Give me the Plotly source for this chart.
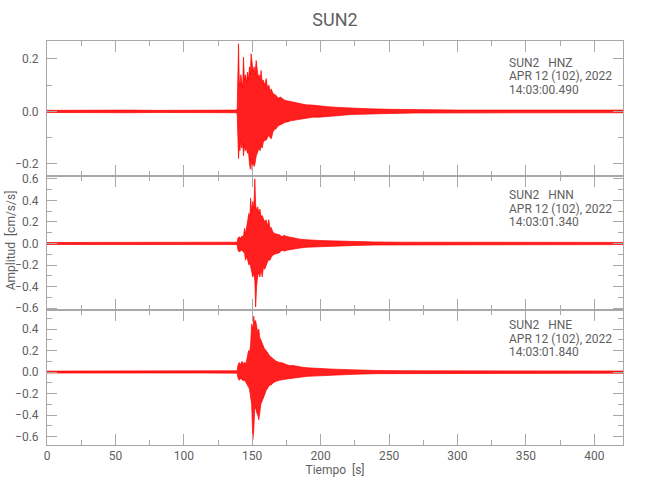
import plotly.graph_objects as go

# ---------------- data ----------------
station = "SUN2"
channels = ["HNZ", "HNN", "HNE"]
date_label = "APR 12 (102), 2022"
start_times = ["14:03:00.490", "14:03:01.340", "14:03:01.840"]
x_ticks = [0, 50, 100, 150, 200, 250, 300, 350, 400]

# HNZ envelope
hnz_t = [0, 20, 40, 60, 80, 100, 120, 138, 139.0, 139.5, 140.0, 140.5, 141.0, 141.7, 142.4, 143.0,
         143.6, 144.3, 145.0, 145.8, 146.5, 147.2, 148.0, 148.6, 149.2, 150.0, 150.7, 151.4,
         152.0, 152.9, 153.6, 154.3, 155.0, 155.8, 156.5, 157.3, 158.0, 159.0, 160.2, 161.2,
         162.2, 163.0, 164.0, 165.0, 166.0, 167.5, 169.0, 170.5, 172.3, 174.0, 176.0, 178.0,
         179.6, 182.0, 185.0, 189.3, 194.0, 199.0, 205.0, 213.6, 222.0, 235.0, 250.0, 270,
         300, 330, 360, 390, 421]
hnz_up = [0.004, 0.005, 0.004, 0.005, 0.004, 0.005, 0.004, 0.005, 0.008, 0.12, 0.258, 0.12, 0.10,
          0.14, 0.11, 0.09, 0.207, 0.12, 0.14, 0.11, 0.15, 0.12, 0.17, 0.14, 0.22, 0.19, 0.15,
          0.17, 0.14, 0.194, 0.15, 0.13, 0.14, 0.12, 0.156, 0.11, 0.12, 0.10, 0.125, 0.09, 0.10,
          0.08, 0.085, 0.07, 0.065, 0.061, 0.05, 0.055, 0.048, 0.042, 0.040, 0.038, 0.036,
          0.032, 0.030, 0.025, 0.024, 0.020, 0.018, 0.015, 0.012, 0.010, 0.008, 0.006, 0.005,
          0.005, 0.005, 0.005, 0.005]
hnz_lo = [-0.004, -0.005, -0.004, -0.005, -0.004, -0.005, -0.004, -0.005, -0.008, -0.10, -0.18,
          -0.13, -0.15, -0.11, -0.14, -0.12, -0.17, -0.13, -0.15, -0.14, -0.16, -0.15, -0.20,
          -0.22, -0.18, -0.225, -0.19, -0.21, -0.20, -0.17, -0.16, -0.15, -0.14, -0.15, -0.13,
          -0.14, -0.12, -0.11, -0.11, -0.10, -0.09, -0.10, -0.104, -0.08, -0.07, -0.066, -0.055,
          -0.05, -0.047, -0.041, -0.040, -0.036, -0.034, -0.030, -0.028, -0.026, -0.022, -0.022,
          -0.020, -0.016, -0.012, -0.010, -0.008, -0.006, -0.005, -0.005, -0.005, -0.005, -0.005]

# HNN envelope
hnn_t = [0, 20, 40, 60, 80, 100, 120, 138, 139.0, 139.5, 140.5, 141.5, 142.5, 143.5, 144.4, 145.1,
         146.0, 146.8, 147.6, 148.3, 148.8, 149.6, 150.4, 151.2, 151.9, 152.5, 153.2, 154.0,
         154.8, 155.6, 156.5, 157.3, 158.2, 159.1, 160.2, 161.2, 162.1, 163.0, 163.8, 165.0,
         166.3, 168.0, 169.9, 171.5, 173.5, 175.3, 177.2, 179.5, 182.0, 185.0, 189.4, 194.0,
         199.0, 206.0, 213.6, 225, 240, 260, 300, 340, 380, 421]
hnn_up = [0.009, 0.010, 0.009, 0.010, 0.009, 0.010, 0.009, 0.010, 0.012, 0.05, 0.062, 0.05, 0.07,
          0.06, 0.14, 0.09, 0.16, 0.22, 0.28, 0.24, 0.42, 0.30, 0.39, 0.33, 0.60, 0.36, 0.30,
          0.34, 0.28, 0.32, 0.25, 0.26, 0.22, 0.20, 0.22, 0.16, 0.22, 0.14, 0.15, 0.11, 0.093,
          0.09, 0.08, 0.065, 0.075, 0.065, 0.06, 0.05, 0.047, 0.04, 0.035, 0.03, 0.028, 0.025,
          0.022, 0.018, 0.014, 0.012, 0.010, 0.010, 0.010, 0.010]
hnn_lo = [-0.009, -0.010, -0.009, -0.010, -0.009, -0.010, -0.009, -0.010, -0.012, -0.06, -0.078,
          -0.07, -0.06, -0.08, -0.09, -0.155, -0.12, -0.15, -0.20, -0.18, -0.22, -0.25, -0.31,
          -0.28, -0.35, -0.59, -0.40, -0.30, -0.27, -0.31, -0.24, -0.31, -0.22, -0.24, -0.20,
          -0.17, -0.15, -0.155, -0.13, -0.11, -0.10, -0.09, -0.085, -0.065, -0.07, -0.062,
          -0.055, -0.05, -0.047, -0.042, -0.035, -0.03, -0.028, -0.025, -0.022, -0.018, -0.014,
          -0.012, -0.010, -0.010, -0.010, -0.010]

# HNE envelope
hne_t = [0, 20, 40, 60, 80, 100, 120, 138, 139.0, 139.5, 140.5, 141.5, 142.5, 143.5, 144.5, 145.5,
         146.5, 147.3, 148.0, 148.8, 149.6, 150.4, 151.1, 151.8, 152.5, 153.3, 154.1, 154.8,
         155.5, 156.3, 157.0, 157.7, 158.8, 160.2, 161.5, 162.8, 163.8, 165.5, 167.5, 169.9,
         172.3, 174.8, 177.2, 180.0, 183.0, 186.5, 190, 195, 200, 207, 214, 225, 240, 260, 300,
         340, 380, 421]
hne_up = [0.009, 0.010, 0.009, 0.010, 0.009, 0.010, 0.009, 0.010, 0.012, 0.06, 0.09, 0.07, 0.10,
          0.08, 0.09, 0.08, 0.16, 0.20, 0.18, 0.25, 0.445, 0.40, 0.52, 0.45, 0.48, 0.40, 0.36,
          0.40, 0.32, 0.30, 0.28, 0.26, 0.22, 0.20, 0.17, 0.15, 0.14, 0.12, 0.10, 0.09, 0.085,
          0.07, 0.06, 0.06, 0.05, 0.045, 0.04, 0.035, 0.03, 0.028, 0.025, 0.02, 0.015, 0.012,
          0.010, 0.010, 0.010, 0.010]
hne_lo = [-0.009, -0.010, -0.009, -0.010, -0.009, -0.010, -0.009, -0.010, -0.012, -0.05, -0.077,
          -0.06, -0.07, -0.08, -0.077, -0.09, -0.12, -0.14, -0.16, -0.20, -0.30, -0.63, -0.55,
          -0.35, -0.33, -0.38, -0.40, -0.445, -0.38, -0.30, -0.28, -0.26, -0.22, -0.17, -0.15,
          -0.12, -0.12, -0.10, -0.085, -0.077, -0.07, -0.065, -0.06, -0.058, -0.05, -0.045,
          -0.04, -0.035, -0.03, -0.028, -0.025, -0.02, -0.015, -0.012, -0.010, -0.010, -0.010,
          -0.010]

series = [(hnz_t, hnz_up, hnz_lo), (hnn_t, hnn_up, hnn_lo), (hne_t, hne_up, hne_lo)]

# ---------------- styling ----------------
FONT = "Roboto, Liberation Sans, sans-serif"
TEXT = "#5f5f5f"
AXIS = "#a8a8a8"
RED = "#ff0000"

y_ranges = [[-0.2457, 0.2686], [-0.614, 0.628], [-0.679, 0.581]]
domains = [[0.6663, 1.0], [0.335, 0.6663], [0.0, 0.335]]

fig = go.Figure()
for i, (t, up, lo) in enumerate(series):
    xs = list(t) + list(t)[::-1]
    ys = list(up) + list(lo)[::-1]
    fig.add_trace(go.Scatter(
        x=xs, y=ys, mode="lines", fill="toself", fillcolor="rgba(255,0,0,0.88)",
        line=dict(color=RED, width=0.7), hoverinfo="skip", showlegend=False,
        xaxis="x" if i == 0 else f"x{i+1}", yaxis="y" if i == 0 else f"y{i+1}",
    ))

layout = dict(
    width=650, height=500,
    margin=dict(l=47, r=27, t=40.5, b=55, autoexpand=False),
    paper_bgcolor="white", plot_bgcolor="white",
    showlegend=False,
    font=dict(family=FONT, color=TEXT, size=12),
    title=dict(text=station, x=(335 - 0) / 650, xanchor="center", y=1 - 20 / 500,
               yanchor="middle", font=dict(family=FONT, size=18, color=TEXT)),
)

for i in range(3):
    xa = "xaxis" if i == 0 else f"xaxis{i+1}"
    ya = "yaxis" if i == 0 else f"yaxis{i+1}"
    yref = "y" if i == 0 else f"y{i+1}"
    xref = "x" if i == 0 else f"x{i+1}"
    layout[xa] = dict(
        range=[0, 421], anchor=yref, domain=[0, 1], automargin=False,
        tickvals=x_ticks, ticktext=[str(v) for v in x_ticks],
        ticks="inside", ticklen=11, tickcolor=AXIS, tickwidth=1,
        minor=dict(dtick=25, tick0=0, ticks="inside", ticklen=5, tickcolor=AXIS),
        showline=True, linecolor=AXIS, linewidth=1, mirror="ticks",
        showgrid=False, zeroline=False,
        showticklabels=(i == 2),
        tickfont=dict(family=FONT, size=12, color=TEXT),
    )
    if i > 0:
        layout[xa]["matches"] = "x"
    layout[ya] = dict(
        range=y_ranges[i], domain=domains[i], anchor=xref, automargin=False,
        dtick=0.2, tick0=0, tickformat=".1f",
        ticks="inside", ticklen=10, tickcolor=AXIS, tickwidth=1,
        minor=dict(dtick=0.1, tick0=0, ticks="inside", ticklen=5, tickcolor=AXIS),
        showline=True, linecolor=AXIS, linewidth=1, mirror="ticks",
        showgrid=False, zeroline=False,
        ticklabelstandoff=5,
        tickfont=dict(family=FONT, size=12, color=TEXT),
    )

layout["xaxis3"]["title"] = dict(text="Tiempo\u00a0\u00a0[s]", standoff=2,
                                  font=dict(family=FONT, size=12, color=TEXT))

fig.update_layout(**layout)

# channel annotations
line_offsets = [0, 13.5, 27]
top_offsets = [21.5, 19.5, 15.5]
for i in range(3):
    xref = "x" if i == 0 else f"x{i+1}"
    yref = "y" if i == 0 else f"y{i+1}"
    lines = [f"{station}\u00a0\u00a0\u00a0{channels[i]}", date_label, start_times[i]]
    for k, txt in enumerate(lines):
        fig.add_annotation(
            text=txt, xref=f"{xref} domain", yref=f"{yref} domain",
            x=(506.7 - 47) / 576, y=1, xanchor="left", yanchor="middle",
            yshift=-(top_offsets[i] + line_offsets[k]), showarrow=False,
            font=dict(family=FONT, size=12, color=TEXT),
        )

fig.add_annotation(
    text="Amplitud\u00a0\u00a0[cm/s/s]", xref="paper", yref="paper",
    x=0, xshift=-36, y=(445 - 240) / 404.5, textangle=-90, showarrow=False,
    xanchor="center", yanchor="middle",
    font=dict(family=FONT, size=12, color=TEXT),
)

fig.write_html("out.html", config={"displayModeBar": False},
               post_script="document.body.style.margin='0';document.body.style.padding='0';")
